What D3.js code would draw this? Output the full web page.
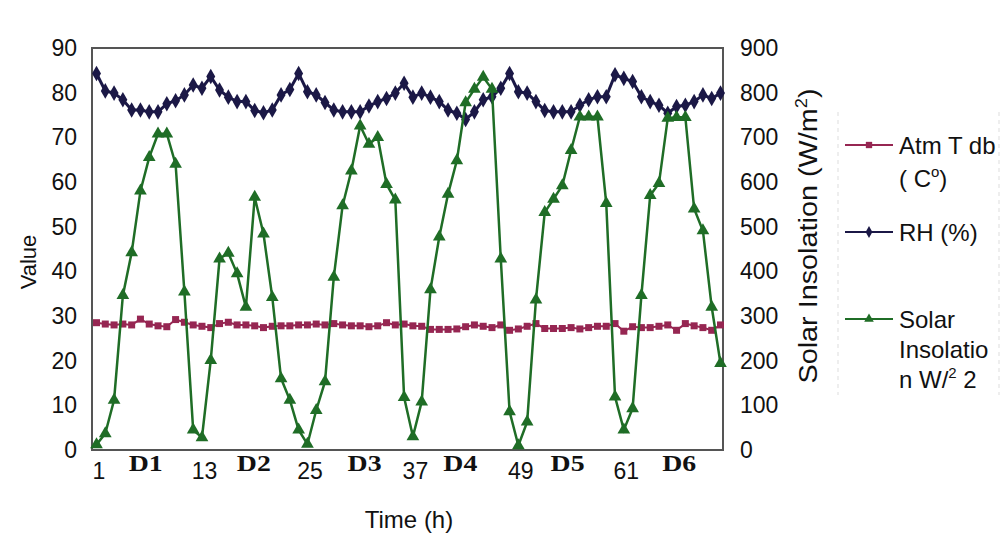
<!DOCTYPE html>
<html>
<head>
<meta charset="utf-8">
<script src="https://cdn.jsdelivr.net/npm/d3@7"></script>
<style>
  body { margin: 0; background: #fff; }
  svg { display: block; }
  text { font-family: "Liberation Sans", Arial, sans-serif; fill: #111; }
</style>
</head>
<body>
<svg id="chart" width="1007" height="548"></svg>
<script>
// ---- data ----
const hours = d3.range(1, 73);
const tempDB = [28.5,28.2,28,28.2,28,29.3,28.2,27.8,27.6,29.2,28.6,28,27.7,27.4,28.3,28.6,28,28,27.8,27.4,27.7,27.8,27.8,28,
                28,28.2,28,28.3,28,27.8,27.8,27.6,27.8,28.5,28,28.2,27.8,27.7,27,27,27,27.1,27.6,28,27.7,27.4,28,26.8,
                27.1,27.7,28.3,27.2,27.2,27.2,27.4,27.1,27.4,27.7,27.7,28.3,26.6,27.6,27.4,27.4,27.7,28,26.8,28.3,27.8,27.4,26.8,28];
const rh = [84.3,80.4,79.9,78.4,76.1,76.1,75.7,75.7,77.5,78.2,79.5,81.7,
            81,83.6,80.6,79,78,78,76,75.5,76.1,79.5,80.7,84.3,
            80.2,79.5,77.8,76.1,75.7,75.7,75.7,77,78,78.7,79.9,82.1,
            79,79.9,79,78,76.1,75.4,74,75.7,78.4,79.1,81,84.3,
            80.2,79.9,78,76,75.7,75.7,75.7,77.2,78.4,79.1,79.1,84,
            83.2,82.5,79.1,78,77.2,75.4,76.9,77.2,78,79.5,78.7,79.9];
const solar = [12,37,112,346,442,580,655,708,708,640,354,45,
               28,201,428,441,395,320,566,484,342,160,112,45,
               13,89,153,387,547,625,726,685,700,595,560,118,
               30,108,359,477,573,648,778,808,835,808,428,86,
               10,63,336,532,562,592,671,746,746,746,552,119,
               45,93,346,570,597,743,745,745,540,491,320,194];
const xTickLabels = [1, 13, 25, 37, 49, 61];
const dayLabels = ["D1","D2","D3","D4","D5","D6"];
const dayPositions = [6.6, 18.9, 31.5, 42.4, 54.6, 67.3];
const leftTicks = [0,10,20,30,40,50,60,70,80,90];
const rightTicks = [0,100,200,300,400,500,600,700,800,900];
const seriesNames = ["Atm T db", "RH (%)", "Solar"];

// ---- layout ----
const svg = d3.select("#chart");
const plot = { x0: 92, x1: 723, y0: 48, y1: 450 };
const colors = { temp: "#962652", rh: "#1b1846", solar: "#1f6d26" };

const x = d3.scaleLinear().domain([1, 72]).range([96.5, 720.5]);
const yL = d3.scaleLinear().domain([0, 90]).range([plot.y1, plot.y0]);
const yR = d3.scaleLinear().domain([0, 900]).range([plot.y1, plot.y0]);

// plot frame
svg.append("rect")
  .attr("x", plot.x0).attr("y", plot.y0)
  .attr("width", plot.x1 - plot.x0).attr("height", plot.y1 - plot.y0)
  .attr("fill", "#fff").attr("stroke", "#555").attr("stroke-width", 2);

const tickFont = "23px";

// left axis
const axL = svg.append("g").attr("transform", `translate(${plot.x0},0)`)
  .call(d3.axisLeft(yL).tickValues(leftTicks).tickSize(0).tickPadding(15));
axL.select(".domain").remove();
axL.selectAll("text").style("font-size", tickFont).style("font-family", "Liberation Sans, Arial, sans-serif").attr("fill", "#111");

// right axis
const axR = svg.append("g").attr("transform", `translate(${plot.x1},0)`)
  .call(d3.axisRight(yR).tickValues(rightTicks).tickSize(0).tickPadding(17));
axR.select(".domain").remove();
axR.selectAll("text").style("font-size", tickFont).style("font-family", "Liberation Sans, Arial, sans-serif").attr("fill", "#111");

// bottom axis numbers
const axB = svg.append("g").attr("transform", `translate(0,${plot.y1})`)
  .call(d3.axisBottom(x).tickValues(xTickLabels).tickSize(0).tickPadding(13).tickFormat(d3.format("d")));
axB.select(".domain").remove();
axB.selectAll("text").attr("dx", 2).style("font-size", tickFont).style("font-family", "Liberation Sans, Arial, sans-serif").attr("fill", "#111");

// day labels
svg.append("g").selectAll("text").data(dayLabels).join("text")
  .attr("x", (d, i) => x(dayPositions[i]))
  .attr("y", 471)
  .attr("text-anchor", "middle")
  .style("font-family", "Liberation Serif, Times New Roman, serif")
  .style("font-weight", "bold")
  .style("font-size", "24px")
  .attr("textLength", 34).attr("lengthAdjust", "spacingAndGlyphs")
  .text(d => d);

// axis titles
svg.append("text").attr("x", 409).attr("y", 528).attr("text-anchor", "middle")
  .style("font-size", "24px").text("Time (h)");
svg.append("text").attr("transform", "translate(36,262) rotate(-90)").attr("text-anchor", "middle")
  .style("font-size", "22px").text("Value");
const rt = svg.append("text").attr("transform", "translate(817,236) rotate(-90)").attr("text-anchor", "middle")
  .style("font-size", "25px").attr("textLength", 295).attr("lengthAdjust", "spacingAndGlyphs");
rt.append("tspan").text("Solar Insolation (W/m");
rt.append("tspan").attr("dy", -10).style("font-size", "16px").text("2");
rt.append("tspan").attr("dy", 10).text(")");

// ---- series ----
const lineL = vals => d3.line().x((d, i) => x(hours[i])).y(d => yL(d))(vals);
const lineR = vals => d3.line().x((d, i) => x(hours[i])).y(d => yR(d))(vals);

// temperature
svg.append("path").attr("d", lineL(tempDB)).attr("fill", "none")
  .attr("stroke", colors.temp).attr("stroke-width", 2);
svg.append("g").selectAll("rect").data(tempDB).join("rect")
  .attr("x", (d, i) => x(hours[i]) - 3.5).attr("y", d => yL(d) - 3.5)
  .attr("width", 7).attr("height", 7).attr("fill", colors.temp);

// RH
svg.append("path").attr("d", lineL(rh)).attr("fill", "none")
  .attr("stroke", colors.rh).attr("stroke-width", 3);
const diamond = d3.symbol().type(d3.symbolDiamond).size(70);
svg.append("g").selectAll("path").data(rh).join("path")
  .attr("transform", (d, i) => `translate(${x(hours[i])},${yL(d)})`)
  .attr("d", diamond).attr("fill", colors.rh);

// solar
svg.append("path").attr("d", lineR(solar)).attr("fill", "none")
  .attr("stroke", colors.solar).attr("stroke-width", 2.5);
const tri = d3.symbol().type(d3.symbolTriangle).size(70);
svg.append("g").selectAll("path").data(solar).join("path")
  .attr("transform", (d, i) => `translate(${x(hours[i])},${yR(d)})`)
  .attr("d", tri).attr("fill", colors.solar);

// ---- legend ----
const lg = svg.append("g");
lg.append("line").attr("x1", 838).attr("x2", 838).attr("y1", 112).attr("y2", 395)
  .attr("stroke", "#ddd").attr("stroke-width", 1).attr("stroke-dasharray", "4,4");
lg.append("line").attr("x1", 999).attr("x2", 999).attr("y1", 112).attr("y2", 395)
  .attr("stroke", "#ddd").attr("stroke-width", 1).attr("stroke-dasharray", "4,4");
const legendItems = [
  { y: 145, color: colors.temp, sym: "square" },
  { y: 232, color: colors.rh, sym: "diamond" },
  { y: 319, color: colors.solar, sym: "triangle" }
];
legendItems.forEach(it => {
  lg.append("line").attr("x1", 845).attr("x2", 893).attr("y1", it.y).attr("y2", it.y)
    .attr("stroke", it.color).attr("stroke-width", 2);
  const s = it.sym === "square" ? d3.symbolSquare : it.sym === "diamond" ? d3.symbolDiamond : d3.symbolTriangle;
  lg.append("path").attr("transform", `translate(869,${it.y})`)
    .attr("d", d3.symbol().type(s).size(40)).attr("fill", it.color);
});
const lf = "24px";
lg.append("text").attr("x", 899).attr("y", 154).style("font-size", lf).text(seriesNames[0]);
const c1 = lg.append("text").attr("x", 899).attr("y", 187).style("font-size", lf);
c1.append("tspan").text("( C");
c1.append("tspan").attr("dy", -10).style("font-size", "15px").text("o");
c1.append("tspan").attr("dy", 10).text(")");
lg.append("text").attr("x", 899).attr("y", 241).style("font-size", lf).text(seriesNames[1]);
lg.append("text").attr("x", 899).attr("y", 328).style("font-size", lf).text(seriesNames[2]);
lg.append("text").attr("x", 899).attr("y", 358).style("font-size", lf).text("Insolatio");
const s3 = lg.append("text").attr("x", 899).attr("y", 388).style("font-size", lf);
s3.append("tspan").text("n W/");
s3.append("tspan").attr("dy", -10).style("font-size", "15px").text("2");
s3.append("tspan").attr("dy", 10).text(" 2");
</script>
</body>
</html>
